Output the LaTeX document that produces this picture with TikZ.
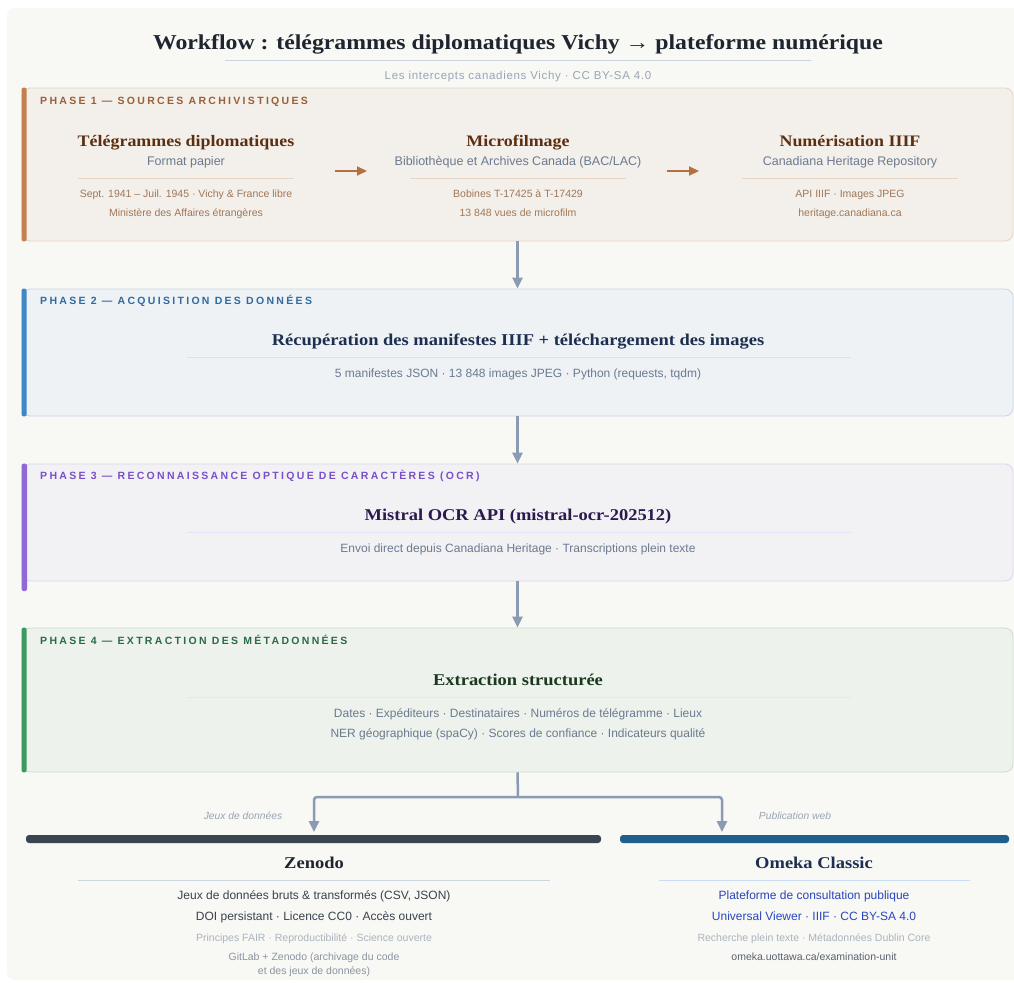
\documentclass[tikz,border=0pt]{standalone}
\usepackage{fontspec}
\setmainfont{Liberation Serif}
\setsansfont{Liberation Sans}
\newfontfamily\headfont[FakeStretch=1.12]{Liberation Serif}
\newfontfamily\capsfont[LetterSpace=22]{Liberation Sans}
\newfontfamily\spacedfont[LetterSpace=6]{Liberation Sans}
\usetikzlibrary{arrows.meta}

\definecolor{cardbg}{HTML}{F8F8F4}
\definecolor{ink}{HTML}{1E2430}
\definecolor{rulegrey}{HTML}{CDD5E0}
\definecolor{subgrey}{HTML}{9AA5B5}
\definecolor{flowgrey}{HTML}{8A9BB3}
\definecolor{midgrey}{HTML}{6B7A90}
% phase 1
\definecolor{brbar}{HTML}{C4804F}
\definecolor{brfill}{HTML}{F3EFEA}
\definecolor{brline}{HTML}{E8D5C4}
\definecolor{brlabel}{HTML}{9A5F36}
\definecolor{brtitle}{HTML}{5C2F10}
\definecolor{brtext}{HTML}{A07858}
\definecolor{brarrow}{HTML}{B5703F}
% phase 2
\definecolor{blbar}{HTML}{3F87C5}
\definecolor{blfill}{HTML}{EEF2F5}
\definecolor{blline}{HTML}{C8D6E6}
\definecolor{bllabel}{HTML}{2F6AA0}
\definecolor{bltitle}{HTML}{1C2F50}
\definecolor{blrule}{HTML}{D4E4F4}
% phase 3
\definecolor{pubar}{HTML}{8F6AD6}
\definecolor{pufill}{HTML}{F2F1F4}
\definecolor{puline}{HTML}{DDD5EC}
\definecolor{pulabel}{HTML}{7A4FC9}
\definecolor{putitle}{HTML}{2A1A4F}
\definecolor{purule}{HTML}{E8E0F8}
% phase 4
\definecolor{grbar}{HTML}{3A9A60}
\definecolor{grfill}{HTML}{EEF2EC}
\definecolor{grline}{HTML}{C8E0CC}
\definecolor{grlabel}{HTML}{2A6A45}
\definecolor{grtitle}{HTML}{1A3A20}
\definecolor{grrule}{HTML}{D8F0DC}
% outputs
\definecolor{slate}{HTML}{3A4550}
\definecolor{omekabar}{HTML}{1F5F8B}
\definecolor{darktext}{HTML}{3A4250}
\definecolor{paletext}{HTML}{AAB4C0}
\definecolor{gittext}{HTML}{8A94A2}
\definecolor{linkblue}{HTML}{2A46C0}
\definecolor{urltext}{HTML}{5A6270}
\definecolor{omrule}{HTML}{C8DCF4}

\tikzset{
  phasebox/.style={draw, line width=0.8pt, rounded corners=8pt, minimum width=991pt, inner sep=0pt},
  phaselabel/.style={anchor=base west, inner sep=0pt, font=\capsfont\bfseries\fontsize{10.5}{12}\selectfont},
  heading/.style={anchor=base, inner sep=0pt, font=\headfont\bfseries\fontsize{16.5}{19}\selectfont},
  colhead/.style={heading, font=\headfont\bfseries\fontsize{16}{19}\selectfont},
  subline/.style={anchor=base, inner sep=0pt, font=\sffamily\fontsize{12.5}{14}\selectfont},
  detail/.style={anchor=base, inner sep=0pt, font=\sffamily\fontsize{10.5}{13}\selectfont},
  phasedetail/.style={anchor=base, inner sep=0pt, font=\sffamily\fontsize{12}{14}\selectfont},
  body/.style={anchor=base, inner sep=0pt, font=\sffamily\fontsize{12}{14}\selectfont},
  branchlabel/.style={anchor=base, inner sep=0pt, text=subgrey, font=\sffamily\itshape\fontsize{10.3}{12}\selectfont},
  outbar/.style={inner sep=0pt, minimum height=8pt, rounded corners=3pt},
  flow/.style={draw=flowgrey, line width=2.5pt, -{Triangle[length=11pt,width=10pt]}},
  sideflow/.style={draw=brarrow, line width=2pt, -{Triangle[length=10pt,width=9pt]}}
}

\begin{document}
\begin{tikzpicture}[x=1pt, y=-1pt]
\useasboundingbox (0,0) rectangle (1014,982);
\fill[white] (0,0) rectangle (1014,982);
\fill[cardbg, rounded corners=8pt] (7,8) rectangle (1022,980);

% title
\node[anchor=base, inner sep=0pt, text=ink, font=\headfont\bfseries\fontsize{21.2}{24}\selectfont] (title) at (518,50)
  {Workflow : télégrammes diplomatiques Vichy → plateforme numérique};
\draw[rulegrey, line width=1pt] (225,61) -- (811,61);
\node[anchor=base, inner sep=0pt, text=subgrey, font=\spacedfont\fontsize{11.5}{13}\selectfont] (subtitle) at (518,79)
  {Les intercepts canadiens Vichy · CC BY-SA 4.0};

% phase 1
\node[phasebox, fill=brfill, draw=brline, minimum height=153pt] (ph1) at (517.5,164.5) {};
\fill[brbar, rounded corners=2pt] (ph1.north west) rectangle ([xshift=5pt]ph1.south west);
\node[phaselabel, text=brlabel] (lab1) at (40,104.5) {PHASE 1 — SOURCES ARCHIVISTIQUES};
\foreach \x/\t/\s/\da/\db [count=\i] in {
  186/Télégrammes diplomatiques/Format papier/Sept. 1941 – Juil. 1945 · Vichy \& France libre/Ministère des Affaires étrangères,
  518/Microfilmage/{Bibliothèque et Archives Canada (BAC/LAC)}/Bobines T-17425 à T-17429/13~848 vues de microfilm,
  850/Numérisation IIIF/Canadiana Heritage Repository/API IIIF · Images JPEG/heritage.canadiana.ca} {
  \node[colhead, text=brtitle] (src\i) at (\x,146) {\t};
  \node[subline, text=midgrey] (srcsub\i) at (\x,165) {\s};
  \draw[brline, line width=1pt] (\x-108,178) -- (\x+108,178);
  \node[detail, text=brtext] (srcda\i) at (\x,197) {\da};
  \node[detail, text=brtext] (srcdb\i) at (\x,216) {\db};
}
\coordinate (a1s) at (335,171);
\coordinate (a1e) at (367,171);
\coordinate (a2s) at (667,171);
\coordinate (a2e) at (699,171);
\draw[sideflow] (a1s) -- (a1e);
\draw[sideflow] (a2s) -- (a2e);

% phase 2
\node[phasebox, fill=blfill, draw=blline, minimum height=127pt] (ph2) at (517.5,352.5) {};
\fill[blbar, rounded corners=2pt] (ph2.north west) rectangle ([xshift=5pt]ph2.south west);
\node[phaselabel, text=bllabel] (lab2) at (40,304.5) {PHASE 2 — ACQUISITION DES DONNÉES};
\node[heading, text=bltitle] (acq) at (518,345.5) {Récupération des manifestes IIIF + téléchargement des images};
\draw[blrule, line width=1pt] (187,357) -- (851,357);
\node[phasedetail, text=midgrey] (acqd) at (518,377) {5 manifestes JSON · 13~848 images JPEG · Python (requests, tqdm)};

% phase 3
\node[phasebox, fill=pufill, draw=puline, minimum height=117pt] (ph3) at (517.5,522.5) {};
\fill[pubar, rounded corners=2pt] (ph3.north west) rectangle ([xshift=5pt]22,591);
\node[phaselabel, text=pulabel] (lab3) at (40,479.5) {PHASE 3 — RECONNAISSANCE OPTIQUE DE CARACTÈRES (OCR)};
\node[heading, text=putitle] (ocr) at (518,520.5) {Mistral OCR API (mistral-ocr-202512)};
\draw[purule, line width=1pt] (187,532) -- (851,532);
\node[phasedetail, text=midgrey] (ocrd) at (518,552) {Envoi direct depuis Canadiana Heritage · Transcriptions plein texte};

% phase 4
\node[phasebox, fill=grfill, draw=grline, minimum height=144pt] (ph4) at (517.5,700) {};
\fill[grbar, rounded corners=2pt] (ph4.north west) rectangle ([xshift=5pt]ph4.south west);
\node[phaselabel, text=grlabel] (lab4) at (40,644.5) {PHASE 4 — EXTRACTION DES MÉTADONNÉES};
\node[heading, text=grtitle] (ext) at (518,685) {Extraction structurée};
\draw[grrule, line width=1pt] (187,697) -- (851,697);
\node[phasedetail, text=midgrey] (extda) at (518,717) {Dates · Expéditeurs · Destinataires · Numéros de télégramme · Lieux};
\node[phasedetail, text=midgrey] (extdb) at (518,737) {NER géographique (spaCy) · Scores de confiance · Indicateurs qualité};

% flow between phases
\draw[flow] (ph1.south) -- (ph2.north);
\draw[flow] (ph2.south) -- (ph3.north);
\draw[flow] (ph3.south) -- (ph4.north);

% outputs
\node[outbar, fill=slate, minimum width=575pt] (zen) at (313.5,839) {};
\node[outbar, fill=omekabar, minimum width=389pt] (omk) at (814.5,839) {};
\coordinate (split) at (518,797);
\coordinate (zenin) at (314,832);
\coordinate (omkin) at (722,832);
\draw[draw=flowgrey, line width=2.5pt] (ph4.south) -- (split);
\draw[flow, rounded corners=3pt] (split) -| (zenin);
\draw[flow, rounded corners=3pt] (split) -| (omkin);
\node[branchlabel] (jeux) at (243,819) {Jeux de données};
\node[branchlabel] (pub) at (795,819) {Publication web};

% zenodo
\node[heading, text=ink] (zent) at (314,868.5) {Zenodo};
\draw[rulegrey, line width=1pt] (78,880) -- (550,880);
\node[body, text=darktext] (zena) at (314,899.5) {Jeux de données bruts \& transformés (CSV, JSON)};
\node[body, text=darktext] (zenb) at (314,920.5) {DOI persistant · Licence CC0 · Accès ouvert};
\node[detail, text=paletext] (zenc) at (314,941) {Principes FAIR · Reproductibilité · Science ouverte};
\node[detail, text=gittext] (zend) at (314,960) {GitLab + Zenodo (archivage du code};
\node[detail, text=gittext] (zene) at (314,974) {et des jeux de données)};

% omeka
\node[heading, text=bltitle] (omkt) at (814,868.5) {Omeka Classic};
\draw[omrule, line width=1pt] (659,880) -- (970,880);
\node[body, text=linkblue] (omka) at (814,899.5) {Plateforme de consultation publique};
\node[body, text=linkblue] (omkb) at (814,920.5) {Universal Viewer · IIIF · CC BY-SA 4.0};
\node[detail, text=paletext] (omkc) at (814,941) {Recherche plein texte · Métadonnées Dublin Core};
\node[detail, text=urltext] (omkd) at (814,960) {omeka.uottawa.ca/examination-unit};
\end{tikzpicture}
\end{document}
